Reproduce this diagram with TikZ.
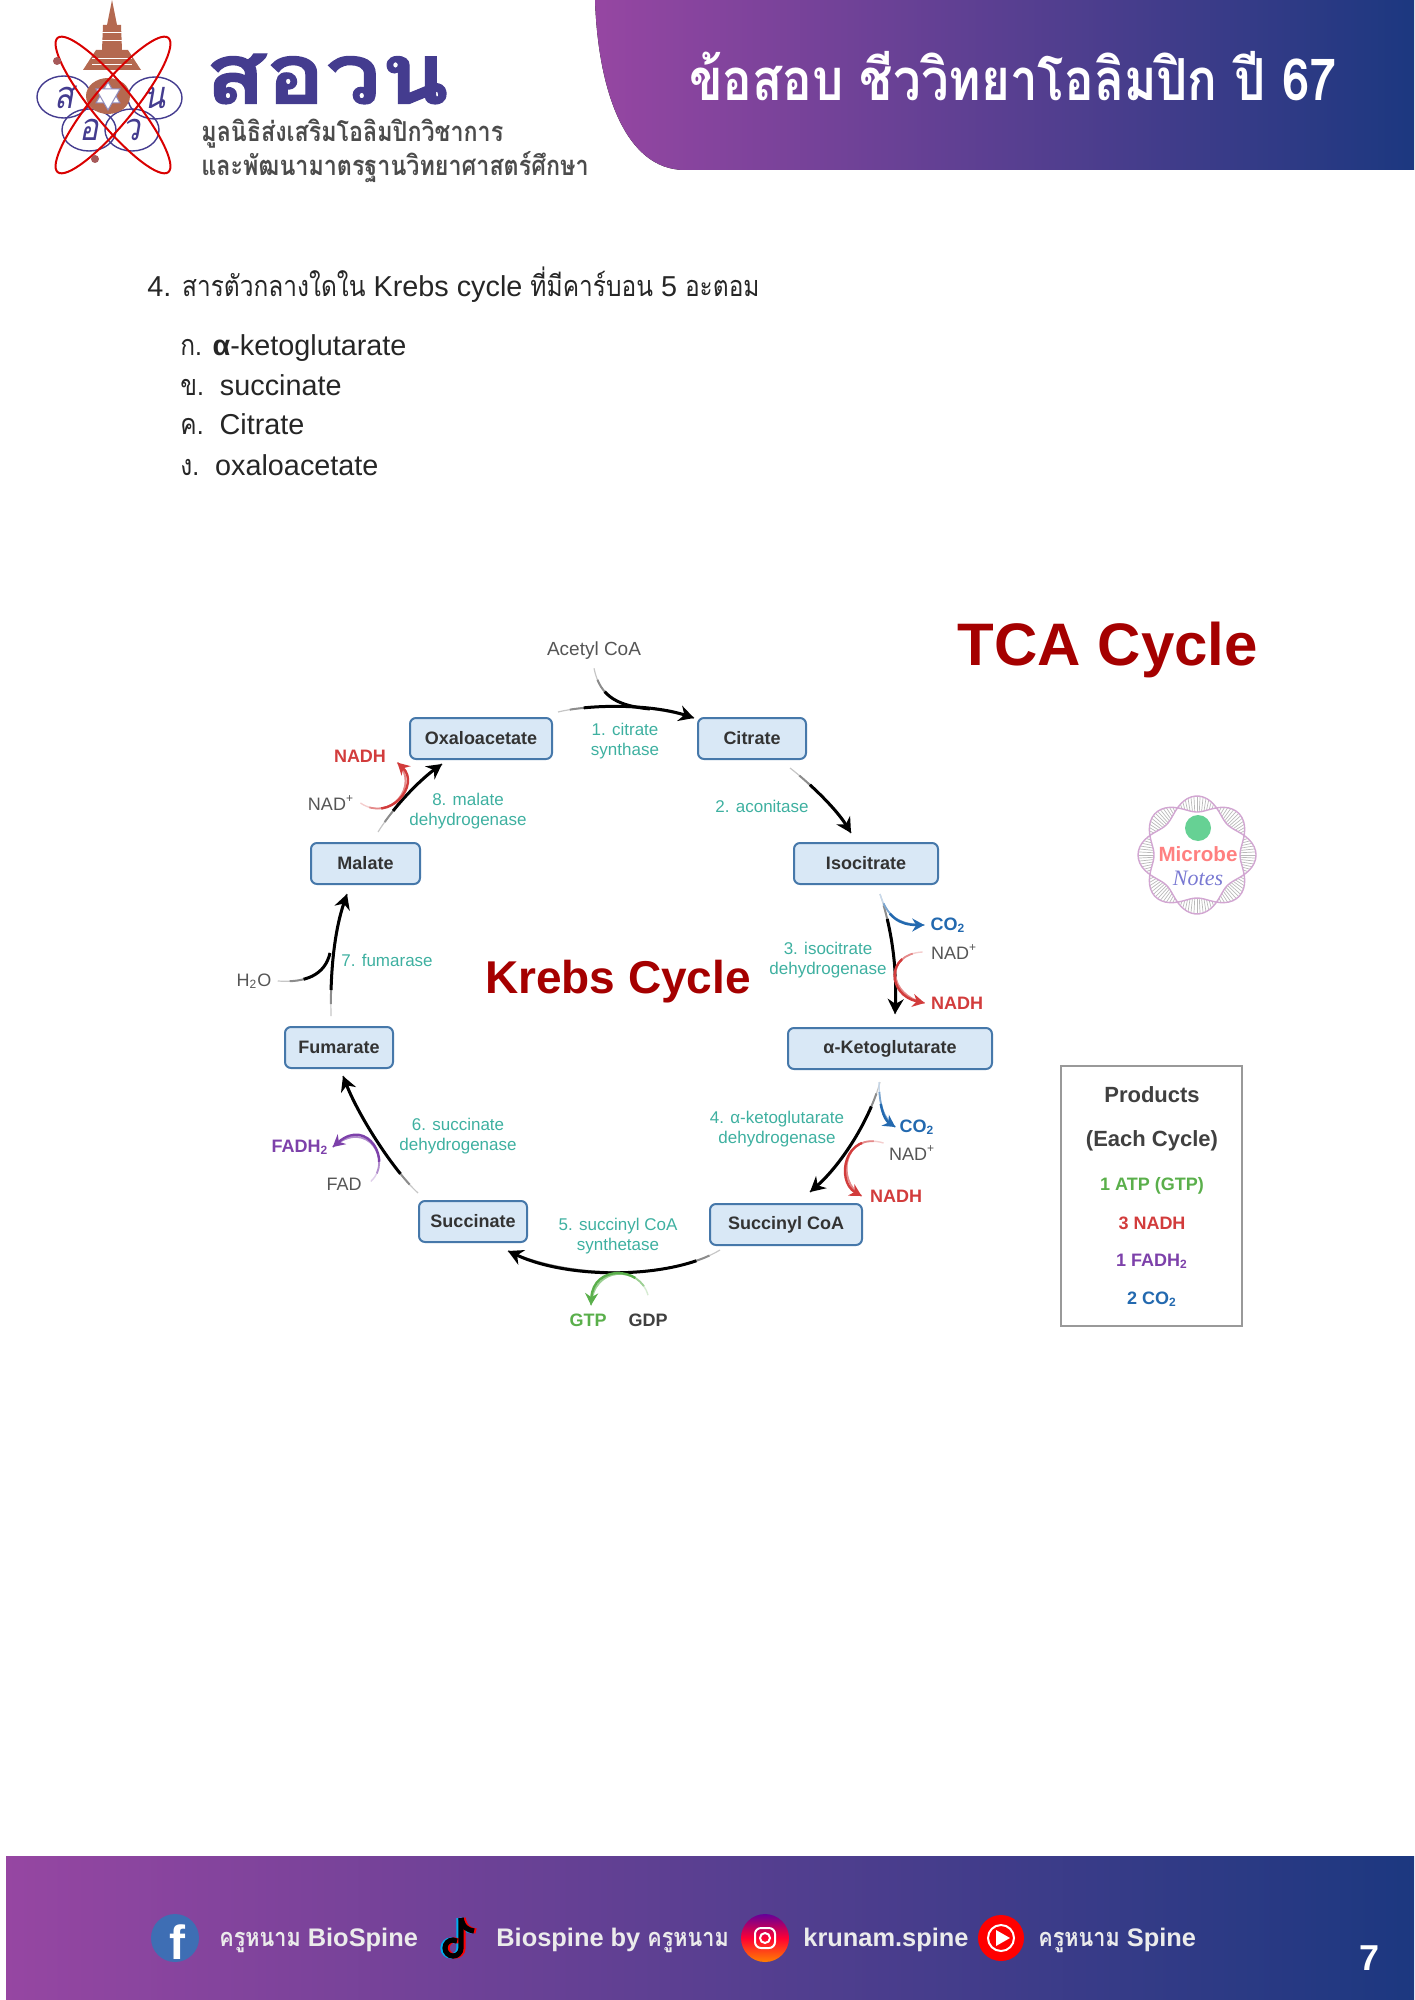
\documentclass[tikz,border=0pt]{standalone}
\usepackage{fontspec}
\setmainfont{Liberation Sans}
\newfontfamily\thaifont[Script=Thai, FakeStretch=0.85]{Loma}
\newfontfamily\brandfont[Script=Thai, FakeBold=1.5, FakeStretch=1.18]{Loma Bold}
\newfontfamily\stampfont{Liberation Serif}
\usepackage{tikz}
\usetikzlibrary{arrows.meta, positioning, shapes.geometric}
\usepackage{xcolor}
\definecolor{boxfill}{RGB}{217,232,246}
\definecolor{boxline}{RGB}{70,120,170}
\definecolor{enzyme}{RGB}{62,176,160}
\definecolor{krebsred}{RGB}{165,0,0}
\definecolor{nadred}{RGB}{210,60,60}
\definecolor{coblue}{RGB}{35,105,175}
\definecolor{gtpgreen}{RGB}{90,175,75}
\definecolor{fadpurple}{RGB}{125,65,170}
\definecolor{cofgray}{RGB}{85,85,85}
\definecolor{bandpurple}{RGB}{150,70,162}
\definecolor{bandblue}{RGB}{28,56,128}
\definecolor{inkblue}{RGB}{68,60,143}
\definecolor{templebrown}{RGB}{180,105,80}
\definecolor{fbblue}{RGB}{62,110,180}

\begin{document}
\begin{tikzpicture}[
    x=0.5pt, y=-0.5pt,
    node distance=20pt and 40pt,
    metabolite/.style={rectangle, rounded corners=3pt, draw=boxline, fill=boxfill, minimum width=#1, minimum height=20.5pt, inner sep=0pt, font=\fontsize{9}{10}\selectfont\bfseries, text=black!80, line width=1pt},
    catalyst/.style={font=\fontsize{8.5}{10.4}\selectfont, text=enzyme, align=center, inner sep=0pt},
    cof/.style={font=\fontsize{9}{10}\selectfont, text=cofgray, inner sep=0pt},
    yield/.style={font=\fontsize{9}{10}\selectfont\bfseries, text=#1, inner sep=0pt},
    flow/.style={-{Stealth[length=7.5pt, width=8pt]}, draw=black, line width=1.5pt, dash pattern=on 0pt off 13pt on 2000pt off 0pt,
        preaction={draw=gray!45, -, solid, line width=0.6pt},
        preaction={draw=gray!90, -, line width=1pt, dash pattern=on 0pt off 6pt on 2000pt off 0pt}},
    sideflow/.style={-{Stealth[length=6pt, width=6.5pt]}, draw=#1, line width=1.2pt, dash pattern=on 0pt off 11pt on 2000pt off 0pt,
        preaction={draw=#1!25, -, solid, line width=0.7pt},
        preaction={draw=#1!60, -, line width=0.9pt, dash pattern=on 0pt off 5pt on 2000pt off 0pt}},
    choice/.style={anchor=west, font=\fontsize{14.4}{16}\selectfont, text=black!85, inner sep=0pt, text height=11pt, text depth=3pt},
    product/.style={font=\fontsize{9}{10}\selectfont\bfseries, text=#1, inner sep=0pt},
    social/.style={anchor=west, font=\fontsize{12.7}{14}\selectfont\bfseries, text=white!92!black, inner sep=0pt},
    orgline/.style={anchor=west, font=\thaifont\bfseries\fontsize{13.7}{15}\selectfont, text=black!70, inner sep=0pt},
]
    \useasboundingbox (0,0) rectangle (1414,2000);

    % Header band
    \fill[left color=bandpurple, right color=bandblue] (595,0) .. controls (598,90) and (625,170) .. (685,170) -- (1414,170) -- (1414,0) -- cycle;
    \node[font=\thaifont\bfseries\fontsize{29}{32}\selectfont, text=white, inner sep=0pt] (title) at (1013,76) {ข้อสอบ ชีววิทยาโอลิมปิก ปี 67};

    % Logo
    \fill[templebrown] (112,0) -- (117,25) -- (121,25) -- (122,50) -- (128,50) -- (141,70) -- (83,70) -- (96,50) -- (102,50) -- (103,25) -- (107,25) -- cycle;
    \foreach \cy in {32,40,58,64} \draw[white, line width=0.4pt] (92,\cy) -- (132,\cy);
    \foreach \cx/\cy/\letter in {64/97/ส, 155/98/น, 89/130/อ, 132/130/ว} {
        \draw[inkblue, line width=0.7pt] (\cx,\cy) ellipse (27 and 21);
        \node[font=\thaifont\itshape\fontsize{19}{20}\selectfont, text=inkblue, inner sep=0pt] at (\cx,\cy) {\letter};
    }
    \fill[templebrown] (108,96) ellipse (22 and 18);
    \draw[inkblue!60, fill=white, line width=0.5pt] (108,82) -- (120,103) -- (96,103) -- cycle;
    \draw[inkblue!60, fill=white, line width=0.5pt] (108,110) -- (120,89) -- (96,89) -- cycle;
    \draw[red!85!black, line width=1pt, rotate around={50.5:(113,105)}] (113,105) ellipse (87 and 20);
    \draw[red!85!black, line width=1pt, rotate around={-50.5:(113,105)}] (113,105) ellipse (87 and 20);
    \fill[gray!70!red] (57,61) circle (4);
    \fill[gray!70!red] (95,159) circle (4);
    \node[font=\brandfont\fontsize{42}{46}\selectfont, text=inkblue, inner sep=0pt] (brand) at (327,79) {สอวน};
    \node[orgline] (org1) at (201,134) {มูลนิธิส่งเสริมโอลิมปิกวิชาการ};
    \node[orgline] (org2) at (201,167) {และพัฒนามาตรฐานวิทยาศาสตร์ศึกษา};

    % Question
    \node[choice] (question) at (147,289) {4. {\thaifont สารตัวกลางใดใน} Krebs cycle {\thaifont ที่มีคาร์บอน} 5 {\thaifont อะตอม}};
    \node[choice] (opta) at (180,348) {{\thaifont ก.} \textbf{α}-ketoglutarate};
    \node[choice] (optb) at (180,388) {{\thaifont ข.}\ \ succinate};
    \node[choice] (optc) at (180,427) {{\thaifont ค.}\ \ Citrate};
    \node[choice] (optd) at (180,467) {{\thaifont ง.}\ \ oxaloacetate};

    % Titles
    \node[font=\fontsize{30}{32}\selectfont\bfseries, text=krebsred, inner sep=0pt] (tca) at (1108,650) {TCA Cycle};
    \node[font=\fontsize{23}{25}\selectfont\bfseries, text=krebsred, inner sep=0pt] (krebs) at (618,982) {Krebs Cycle};

    % Metabolites
    \node[metabolite=71pt] (oxalo) at (481,738.5) {Oxaloacetate};
    \node[metabolite=54pt, right=72pt of oxalo] (citrate) {Citrate};
    \node[metabolite=72pt, below=41pt of citrate, xshift=57pt] (isocit) {Isocitrate};
    \node[metabolite=102pt, below=71pt of isocit, xshift=12pt] (akg) {α-Ketoglutarate};
    \node[metabolite=76pt, below=66.5pt of akg, xshift=-52pt] (succoa) {Succinyl CoA};
    \node[metabolite=54pt, left=90.5pt of succoa, yshift=1.5pt] (succin) {Succinate};
    \node[metabolite=54.5pt, below=41pt of oxalo, xshift=-57.75pt] (malate) {Malate};
    \node[metabolite=54pt, below=70.5pt of malate, xshift=-13.25pt] (fumar) {Fumarate};

    % Enzymes
    \node[catalyst] (enz1) at (625,741) {1. citrate\\synthase};
    \node[catalyst] (enz2) at (762,806) {2. aconitase};
    \node[catalyst] (enz3) at (828,960) {3. isocitrate\\dehydrogenase};
    \node[catalyst] (enz4) at (777,1129) {4. α-ketoglutarate\\dehydrogenase};
    \node[catalyst] (enz5) at (618,1236) {5. succinyl CoA\\synthetase};
    \node[catalyst] (enz6) at (458,1136) {6. succinate\\dehydrogenase};
    \node[catalyst] (enz7) at (387,960) {7. fumarase};
    \node[catalyst] (enz8) at (468,811) {8. malate\\dehydrogenase};

    % Cofactors
    \node[cof, font=\fontsize{9.5}{10}\selectfont] (acetyl) at (594,651) {Acetyl CoA};
    \node[cof] (water) at (254,981) {H\textsubscript{2}O};
    \node[cof] (nadm) at (331,803) {NAD\textsuperscript{+}};
    \node[yield=nadred] (nadhm) at (360,756) {NADH};
    \node[yield=coblue] (coa) at (948,925) {CO\textsubscript{2}};
    \node[cof] (nada) at (954,952) {NAD\textsuperscript{+}};
    \node[yield=nadred] (nadha) at (957,1003) {NADH};
    \node[yield=coblue] (cob) at (917,1127) {CO\textsubscript{2}};
    \node[cof] (nadb) at (912,1153) {NAD\textsuperscript{+}};
    \node[yield=nadred] (nadhb) at (896,1196) {NADH};
    \node[yield=gtpgreen] (gtp) at (588,1320) {GTP};
    \node[yield=black!75] (gdp) at (648,1320) {GDP};
    \node[yield=fadpurple] (fadh) at (300,1147) {FADH\textsubscript{2}};
    \node[cof] (fad) at (344,1184) {FAD};

    % Cycle arrows
    \draw[flow] ([shift={(5,-5)}]oxalo.north east) .. controls +(33,-8) and +(-43,-14) .. ([shift={(-3,1)}]citrate.north west);
    \draw[flow] ([shift={(38,8)}]citrate.south) .. controls +(22,17) and +(-14,-23) .. ([shift={(-15,-9)}]isocit.north);
    \draw[flow] ([shift={(14,9)}]isocit.south) .. controls +(12,35) and +(2,-45) .. ([shift={(5,-13)}]akg.north);
    \draw[flow] ([shift={(-10,12)}]akg.south) .. controls +(-10,37) and +(32,-28) .. ([shift={(24,-11)}]succoa.north);
    \draw[flow] ([shift={(-66,4)}]succoa.south) .. controls +(-48,29) and +(62,29) .. ([shift={(35,8)}]succin.south);
    \draw[flow] ([shift={(-55,-7)}]succin.north) .. controls +(-23,-21) and +(17,43) .. ([shift={(4,7)}]fumar.south);
    \draw[flow] ([shift={(-8,-10)}]fumar.north) .. controls +(-1,-47) and +(-12,35) .. ([shift={(-18.5,9)}]malate.south);
    \draw[flow] ([shift={(12.5,-10)}]malate.north) .. controls +(17,-27) and +(-22,16) .. ([shift={(-39,4)}]oxalo.south);

    % Side arrows
    \coordinate (joina) at (650,709);
    \coordinate (joinw) at (330,953);
    \draw[flow, -] ([yshift=-4pt]acetyl.south) .. controls +(6,30) and +(-30,-3) .. (joina);
    \draw[flow, -] ([xshift=3pt]water.east) .. controls +(28,2) and +(-5,22) .. (joinw);
    \draw[sideflow=coblue] ([shift={(14,9)}]isocit.south) .. controls +(7,23) and +(-25,0) .. ([xshift=-3pt]coa.west);
    \draw[sideflow=nadred] ([xshift=-4pt]nada.west) .. controls +(-38,2) and +(-37,-8) .. ([xshift=-3pt]nadha.west);
    \draw[sideflow=coblue] ([shift={(-11,12)}]akg.south) .. controls +(0,22) and +(-12,-8) .. ([xshift=-2pt]cob.west);
    \draw[sideflow=nadred] ([shift={(-5,-10)}]nadb.west) .. controls +(-40,-12) and +(-26,-15) .. ([xshift=-4pt]nadhb.west);
    \draw[sideflow=gtpgreen] ([yshift=9pt]gdp.north) .. controls +(-8,-30) and +(2,-40) .. ([shift={(3,-8)}]gtp.north);
    \draw[sideflow=fadpurple] ([shift={(9,4)}]fad.north east) .. controls +(22,-20) and +(35,-30) .. ([xshift=2pt]fadh.east);
    \draw[sideflow=nadred] ([xshift=3pt]nadm.east) .. controls +(30,20) and +(23,22) .. ([shift={(11,0)}]nadhm.south east);

    % Products
    \node[draw=gray!80, line width=1pt, minimum width=90.5pt, minimum height=130pt, inner sep=0pt] (products) at (1151.5,1196) {};
    \node[product=black!75, font=\fontsize{11}{12}\selectfont\bfseries] (prodhead) at (1152,1095) {Products};
    \node[product=black!75, font=\fontsize{11}{12}\selectfont\bfseries] (prodeach) at (1152,1141) {(Each Cycle)};
    \node[product=gtpgreen] (prodatp) at (1152,1186) {1 ATP (GTP)};
    \node[product=nadred] (prodnadh) at (1152,1223) {3 NADH};
    \node[product=fadpurple] (prodfadh) at (1152,1261) {1 FADH\textsubscript{2}};
    \node[product=coblue] (prodco) at (1152,1299) {2 CO\textsubscript{2}};

    % Microbe Notes stamp
    \foreach \ang in {0,3,...,357} {
        \draw[gray!55, line width=0.35pt] ({1197+(51+8*cos(4*\ang))*cos(\ang)},{855+(51+8*cos(4*\ang))*sin(\ang)}) -- ({1197+(51-8*cos(4*\ang))*cos(\ang)},{855+(51-8*cos(4*\ang))*sin(\ang)});
    }
    \draw[violet!35, line width=0.7pt, smooth, samples=91, domain=0:360] plot ({1197+(51+8*cos(4*\x))*cos(\x)},{855+(51+8*cos(4*\x))*sin(\x)});
    \draw[violet!35, line width=0.7pt, smooth, samples=91, domain=0:360] plot ({1197+(51-8*cos(4*\x))*cos(\x)},{855+(51-8*cos(4*\x))*sin(\x)});
    \fill[teal!60!green!60] (1198,828) circle (13);
    \node[font=\fontsize{10.3}{11}\selectfont\bfseries, text=red!50!white, inner sep=0pt] (microbe) at (1198,854) {Microbe};
    \node[font=\stampfont\itshape\fontsize{11}{12}\selectfont, text=blue!50!gray!70, inner sep=0pt] (notes) at (1198,878) {Notes};

    % Footer band
    \fill[left color=bandpurple, right color=bandblue] (6,1856) rectangle (1414,2000);
    \fill[fbblue] (175,1938) circle (24);
    \node[font=\fontsize{24}{24}\selectfont\bfseries, text=white, inner sep=0pt] (fbmark) at (177,1942) {f};
    \node[social] (fbtext) at (219,1940) {{\thaifont ครูหนาม} BioSpine};
    \foreach \ttcol/\ttx in {cyan/-2, red/2, black/0} {
        \begin{scope}[shift={(\ttx,0)}]
            \draw[\ttcol, line width=2.6pt] (461,1918) -- (461,1948) arc (0:300:8);
            \draw[\ttcol, line width=2.6pt] (461,1918) .. controls (463,1928) and (468,1930) .. (474,1931);
        \end{scope}
    }
    \node[social] (tttext) at (496,1940) {Biospine by {\thaifont ครูหนาม}};
    \shade[bottom color=orange, top color=violet!80!blue, middle color=red!80!magenta] (765,1938) circle (24);
    \draw[white, line width=1pt, rounded corners=3pt] (755,1928) rectangle (775,1948);
    \draw[white, line width=1pt] (765,1938) circle (5);
    \node[social] (igtext) at (803,1940) {krunam.spine};
    \fill[red] (1001,1938) circle (23);
    \draw[white, line width=1pt] (1001,1938) circle (13);
    \fill[white] (996,1930) -- (1010,1938) -- (996,1946) -- cycle;
    \node[social] (yttext) at (1038,1940) {{\thaifont ครูหนาม} Spine};
    \node[font=\fontsize{18}{20}\selectfont\bfseries, text=white, inner sep=0pt] (pagenum) at (1369,1958) {7};
\end{tikzpicture}
\end{document}
